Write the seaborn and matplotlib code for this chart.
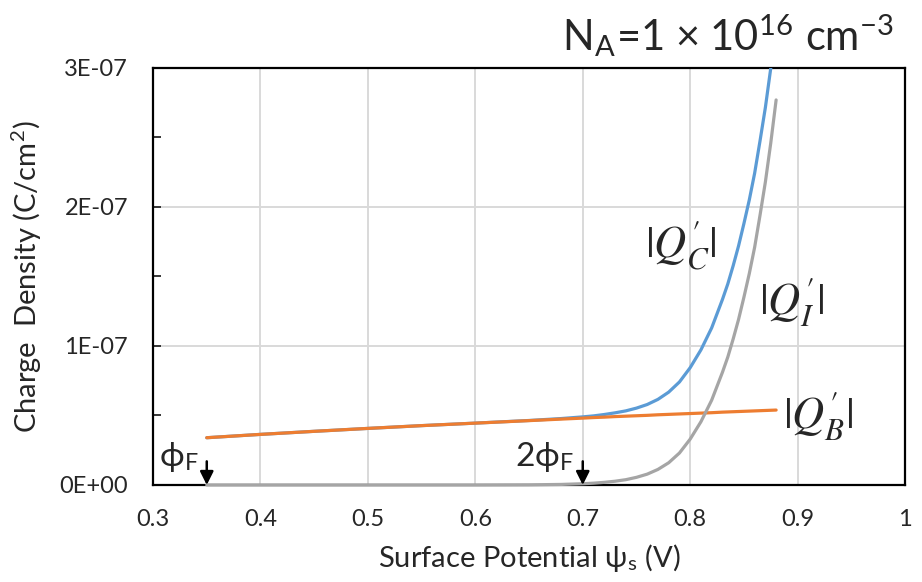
import numpy as np
import pandas as pd
import seaborn as sns
import matplotlib
matplotlib.use("Agg")
import matplotlib.pyplot as plt

# surface potential (V) and charge densities (units of 1E-08 C/cm2)
psi = [0.35, 0.40, 0.45, 0.50, 0.55, 0.60, 0.65, 0.68, 0.70, 0.71, 0.72, 0.73,
       0.74, 0.75, 0.76, 0.77, 0.78, 0.79, 0.80, 0.81, 0.82, 0.83, 0.835, 0.84,
       0.845, 0.85, 0.855, 0.86, 0.865, 0.87, 0.875, 0.88]
q_b = [3.40, 3.64, 3.86, 4.07, 4.27, 4.45, 4.63, 4.74, 4.81, 4.85, 4.88, 4.92,
       4.95, 4.98, 5.01, 5.05, 5.08, 5.11, 5.14, 5.17, 5.20, 5.24, 5.255, 5.27,
       5.285, 5.30, 5.315, 5.33, 5.345, 5.36, 5.375, 5.39]
q_i = [0.0, 0.0, 0.0, 0.0, 0.0, 0.0, 0.01, 0.04, 0.09, 0.13, 0.19, 0.27,
       0.38, 0.55, 0.78, 1.12, 1.6, 2.3, 3.3, 4.55, 6.1, 8.1, 9.2, 10.5,
       11.9, 13.5, 15.2, 17.1, 19.4, 21.8, 24.6, 27.7]
q_c = [3.40, 3.64, 3.86, 4.07, 4.27, 4.45, 4.64, 4.78, 4.90, 4.97, 5.07, 5.19,
       5.33, 5.53, 5.79, 6.16, 6.68, 7.41, 8.44, 9.72, 11.3, 13.34, 14.46, 15.77,
       17.19, 18.8, 20.5, 22.43, 24.75, 27.16, 29.98, 33.1]

x_ticks = [0.3, 0.4, 0.5, 0.6, 0.7, 0.8, 0.9, 1.0]
x_tick_labels = ["0.3", "0.4", "0.5", "0.6", "0.7", "0.8", "0.9", "1"]
y_ticks = [0, 1e-7, 2e-7, 3e-7]
y_tick_labels = ["0E+00", "1E-07", "2E-07", "3E-07"]

df = pd.DataFrame({"psi": psi,
                   "QC": np.array(q_c) * 1e-8,
                   "QI": np.array(q_i) * 1e-8,
                   "QB": np.array(q_b) * 1e-8})

sns.set_style("white")
plt.rcParams["font.family"] = ["Lato", "DejaVu Sans"]
plt.rcParams["mathtext.fontset"] = "stix"

fig = plt.figure(figsize=(9.22, 5.82), dpi=100)
ax = fig.add_axes([0.166, 0.1667, 0.8156, 0.7165])

sns.lineplot(data=df, x="psi", y="QC", color="#5B9BD5", lw=2.3, ax=ax, zorder=3)
sns.lineplot(data=df, x="psi", y="QB", color="#ED7D31", lw=2.3, ax=ax, zorder=3)
sns.lineplot(data=df, x="psi", y="QI", color="#A5A5A5", lw=2.3, ax=ax, zorder=4,
             clip_on=False)

ax.set_xlim(0.3, 1.0)
ax.set_ylim(0, 3e-7)
ax.set_xticks(x_ticks)
ax.set_xticklabels(x_tick_labels)
ax.set_yticks(y_ticks)
ax.set_yticklabels(y_tick_labels)
ax.set_yticks([0.5e-7, 1.5e-7, 2.5e-7], minor=True)
ax.tick_params(axis="x", length=0, pad=17, labelsize=17)
ax.tick_params(axis="y", which="both", direction="in", length=6, width=1.3,
               pad=18, labelsize=17, left=True)
ax.grid(True, which="major", color="#d9d9d9", lw=1.4)
ax.set_axisbelow(True)
for s in ax.spines.values():
    s.set_color("black")
    s.set_linewidth(1.6)

ax.set_xlabel("Surface Potential ψ$_\\mathregular{s}$ (V)", fontsize=21, labelpad=9)
ax.set_ylabel("Charge  Density (C/cm$^\\mathregular{2}$)", fontsize=21, labelpad=11)

# curve labels
ax.text(0.7916, 1.727e-7, r"$|Q_C'|$", fontsize=32, ha="center", va="center")
ax.text(0.894, 1.317e-7, r"$|Q_I'|$", fontsize=32, ha="center", va="center")
ax.text(0.919, 0.50e-7, r"$|Q_B'|$", fontsize=32, ha="center", va="center")

# phi_F markers
for xv, lab in [(0.35, "ϕ$_\\mathregular{F}$"), (0.70, "2ϕ$_\\mathregular{F}$")]:
    ax.annotate("", xy=(xv, 0), xytext=(xv, 0.17e-7),
                arrowprops=dict(arrowstyle="-|>", color="black", lw=1.8,
                                mutation_scale=20, shrinkA=0, shrinkB=0),
                zorder=6)
    ax.text(xv - 0.008, 0.2e-7, lab, fontsize=24, ha="right", va="center")

fig.text(0.790, 0.938, "N$_\\mathregular{A}$=1 × 10$^\\mathregular{16}$ cm$^\\mathregular{-3}$",
         fontsize=30, ha="center", va="center")

fig.savefig("out.png", dpi=100)
